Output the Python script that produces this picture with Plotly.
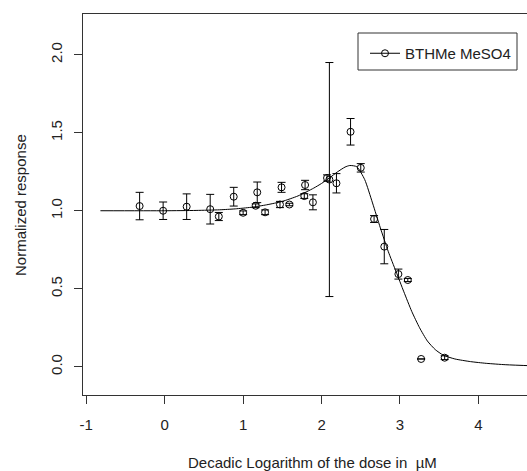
import plotly.graph_objects as go

# observed points: decadic log dose, normalized response, error half-width
dose_log = [-0.32, -0.02, 0.28, 0.58, 0.69, 0.88, 1.00, 1.18, 1.16, 1.28,
            1.49, 1.47, 1.59, 1.79, 1.78, 1.89, 2.07, 2.10, 2.19, 2.37,
            2.50, 2.67, 2.80, 2.98, 3.10, 3.27, 3.57]
response = [1.03, 1.00, 1.026, 1.01, 0.963, 1.09, 0.987, 1.118, 1.032, 0.99,
            1.15, 1.04, 1.04, 1.165, 1.094, 1.054, 1.21, 1.20, 1.176, 1.506,
            1.275, 0.947, 0.77, 0.594, 0.556, 0.05, 0.058]
err = [0.088, 0.056, 0.082, 0.095, 0.026, 0.06, 0.012, 0.066, 0.012, 0.015,
       0.032, 0.02, 0.008, 0.03, 0.015, 0.048, 0.02, 0.75, 0.062, 0.085,
       0.027, 0.022, 0.11, 0.032, 0.01, 0.0, 0.012]

# fitted curve
curve_x = [-0.82, 0.0, 0.4, 0.7, 0.9, 1.1, 1.3, 1.5, 1.7, 1.9, 2.0, 2.1, 2.2, 2.3,
           2.36, 2.45, 2.55, 2.65, 2.75, 2.85, 2.95, 3.05, 3.15, 3.25, 3.35, 3.45,
           3.55, 3.7, 3.9, 4.1, 4.35, 4.7]
curve_y = [1.0, 1.0, 1.002, 1.006, 1.012, 1.022, 1.038, 1.06, 1.095, 1.145, 1.175,
           1.21, 1.248, 1.28, 1.29, 1.282, 1.2, 1.05, 0.89, 0.74, 0.61, 0.48, 0.355,
           0.25, 0.165, 0.11, 0.075, 0.05, 0.033, 0.022, 0.013, 0.006]

x_ticks = [-1, 0, 1, 2, 3, 4]
x_ticklabels = ["-1", "0", "1", "2", "3", "4"]
y_ticks = [0.0, 0.5, 1.0, 1.5, 2.0]
y_ticklabels = ["0.0", "0.5", "1.0", "1.5", "2.0"]

series_name = "BTHMe MeSO4"
x_title = "Decadic Logarithm of the dose in  µM"
y_title = "Normalized response"

FONT = "Liberation Sans, Arial, sans-serif"
INK = "#222222"

fig = go.Figure()
fig.add_trace(go.Scatter(
    x=curve_x, y=curve_y, mode="lines", line=dict(color="black", width=1, shape="spline", smoothing=0.6),
    showlegend=False, hoverinfo="skip"))
fig.add_trace(go.Scatter(
    x=dose_log, y=response, mode="markers",
    marker=dict(symbol="circle-open", size=7, color="black", line=dict(width=1, color="black")),
    error_y=dict(type="data", array=err, visible=True, color="black", thickness=1, width=4),
    showlegend=False))
fig.add_trace(go.Scatter(
    x=[None], y=[None], mode="lines+markers", name=series_name,
    line=dict(color="black", width=1),
    marker=dict(symbol="circle-open", size=7, color="black", line=dict(width=1, color="black"))))

W, H = 527, 471
L, R, T, B = 83, 0, 14, 76
pw, ph = W - L - R, H - T - B

def px_x(p):
    return (p - L) / pw

def px_y(p):
    return 1 - (p - T) / ph

fig.update_layout(
    width=W, height=H,
    margin=dict(l=L, r=R, t=T, b=B, pad=0),
    paper_bgcolor="white", plot_bgcolor="white",
    font=dict(family=FONT, size=15, color=INK),
    xaxis=dict(range=[-1.042, 4.62], tickvals=x_ticks, ticktext=x_ticklabels,
               showgrid=False, zeroline=False, showline=True, mirror=True,
               linecolor="#333333", linewidth=1, ticks="outside", ticklen=8,
               tickcolor="#333333", ticklabelstandoff=8, tickfont=dict(size=15, color=INK)),
    yaxis=dict(range=[-0.181, 2.261], tickvals=y_ticks, ticktext=y_ticklabels,
               showgrid=False, zeroline=False, showline=True, mirror=True,
               linecolor="#333333", linewidth=1, ticks="outside", ticklen=8,
               tickcolor="#333333", tickangle=-90, ticklabelstandoff=6,
               tickfont=dict(size=15, color=INK)),
    legend=dict(x=px_x(365), y=px_y(37), xanchor="left", yanchor="top",
                bgcolor="rgba(0,0,0,0)", borderwidth=0,
                font=dict(size=15, color=INK)),
    shapes=[dict(type="rect", xref="paper", yref="paper",
                 x0=px_x(358), x1=px_x(517), y0=px_y(70), y1=px_y(33),
                 line=dict(color="#333333", width=1), fillcolor="rgba(0,0,0,0)", layer="above")],
    annotations=[
        dict(text=x_title, xref="paper", yref="paper", x=px_x(312), y=px_y(462),
             xanchor="center", yanchor="middle", showarrow=False, font=dict(size=15, color=INK)),
        dict(text=y_title, xref="paper", yref="paper", x=px_x(20), y=px_y(205),
             xanchor="center", yanchor="middle", showarrow=False, textangle=-90,
             font=dict(size=15, color=INK)),
    ],
)

fig.write_html("out.html")
